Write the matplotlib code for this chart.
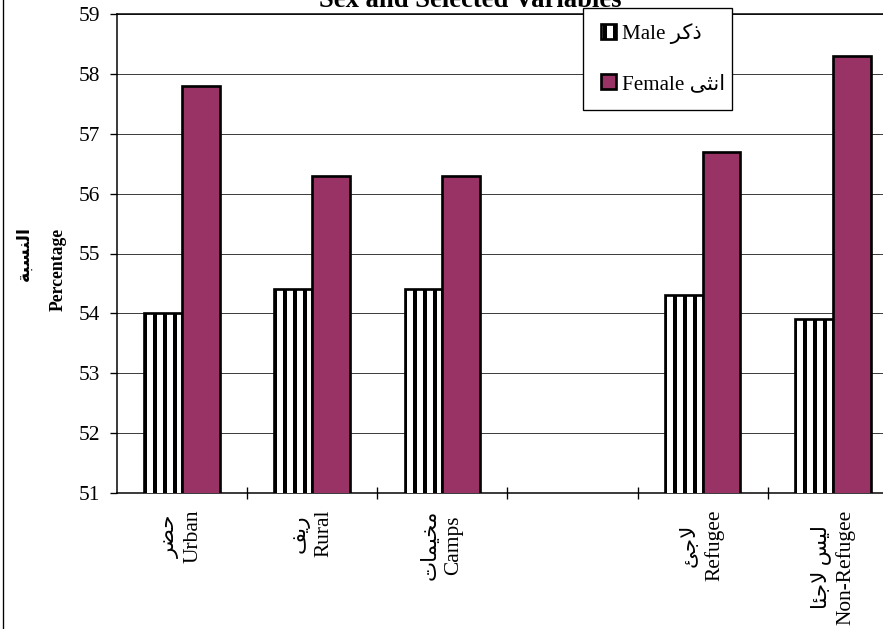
import numpy as np
import matplotlib
matplotlib.use('Agg')
import matplotlib.pyplot as plt
from matplotlib.patches import Rectangle
from matplotlib.lines import Line2D

# Arabic strings are pre-shaped (presentation forms, visual order),
# because matplotlib does no Arabic shaping or bidi on its own
male_ar = "\uFEAE\uFEDB\uFEAB"                      # ذكر
female_ar = "\uFEF0\uFE9C\uFEE7\uFE8D"              # انثى
pct_ar = "\uFE94\uFE92\uFEB4\uFEE8\uFEDF\uFE8D"     # النسبة

categories_en = ['Urban', 'Rural', 'Camps', '', 'Refugee', 'Non-Refugee']
categories_ar = [
    "\uFEAE\uFEC0\uFEA3",                           # حضر
    "\uFED2\uFEF3\uFEAD",                           # ريف
    "\uFE95\uFE8E\uFEE4\uFEF4\uFEA8\uFEE3",         # مخيمات
    "",
    "\uFE8A\uFE9F\uFEFB",                           # لاجئ
    "\uFE8E\uFE8C\uFE9F\uFEFB \uFEB2\uFEF4\uFEDF",  # ليس لاجئا
]
male = [54.0, 54.4, 54.4, np.nan, 54.3, 53.9]
female = [57.8, 56.3, 56.3, np.nan, 56.7, 58.3]
yticks = list(range(51, 60))

FONTS = ['Liberation Serif', 'DejaVu Sans']
plt.rcParams['font.family'] = FONTS
plt.rcParams['hatch.linewidth'] = 2.4

DPI = 120
W, H = 883, 629
fig = plt.figure(figsize=(W / DPI, H / DPI), dpi=DPI)
ax = fig.add_axes([116.75 / W, 136 / H, (898 - 116.75) / W, 479 / H])

x = np.arange(len(categories_en))
bw = 0.29
bars_m = ax.bar(x - bw / 2, male, bw, color='white', edgecolor='black',
                hatch='||', linewidth=1.6, zorder=3)
bars_f = ax.bar(x + bw / 2, female, bw, color='#993366', edgecolor='black',
                linewidth=1.6, zorder=3)

ax.set_xlim(-0.5, len(categories_en) - 0.5)
ax.set_ylim(yticks[0], yticks[-1])
ax.set_yticks(yticks)
ax.yaxis.grid(True, color='#404040', linewidth=0.6)
ax.set_axisbelow(True)
for s in ['left', 'bottom', 'top']:
    ax.spines[s].set_linewidth(0.9)
ax.spines['right'].set_visible(False)

# ticks between groups, labels in the middle
ax.set_xticks(x[:-1] + 0.5)
labels = [f"{a}\n{e}" if e else "" for a, e in zip(categories_ar, categories_en)]
ax.set_xticks(x, labels, minor=True, rotation=90, va='top', ha='center',
              multialignment='center', linespacing=1.3, fontsize=12.8)
ax.tick_params(axis='x', which='major', direction='inout', length=7.2,
               width=0.8, labelbottom=False)
ax.tick_params(axis='x', which='minor', length=0, pad=10)
ax.tick_params(axis='y', direction='out', length=4.2, width=0.8, pad=6,
               labelsize=12.8)

# title is cut at the top edge, as in the source chart
fig.text(470 / W, 1 - 7 / H, 'Sex and Selected Variables', ha='center',
         va='baseline', fontsize=16, fontweight='bold')

fig.text(25 / W, 1 - 253 / H, pct_ar, rotation=90, ha='center', va='center',
         fontsize=10.4, fontweight='bold')
fig.text(58 / W, 1 - 269 / H, 'Percentage', rotation=90, ha='center',
         va='center', fontsize=10.6, fontweight='bold')

# legend box
fig.add_artist(Rectangle((583 / W, 1 - 110 / H), 149 / W, 102 / H,
                         transform=fig.transFigure, facecolor='white',
                         edgecolor='black', linewidth=0.8, zorder=4))
leg = fig.legend([bars_m, bars_f], [f"Male {male_ar}", f"Female {female_ar}"],
                 loc='upper left', bbox_to_anchor=(601 / W, 1 - 23 / H),
                 frameon=False, borderpad=0, borderaxespad=0,
                 handlelength=0.7, handleheight=0.7, handletextpad=0.3,
                 labelspacing=1.45, fontsize=12.6)
leg.set_zorder(10)

fig.add_artist(Line2D([3 / W, 3 / W], [0, 1], color='black', linewidth=0.8))

fig.savefig('out.png', dpi=DPI)
